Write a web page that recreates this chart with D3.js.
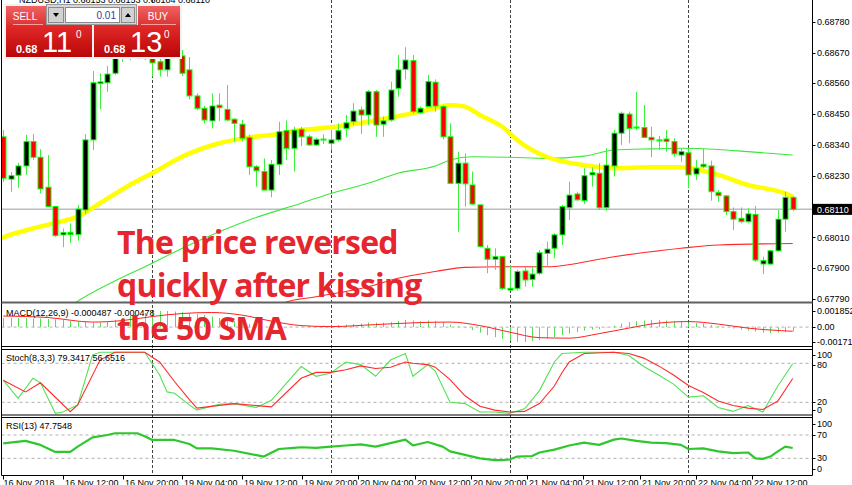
<!DOCTYPE html>
<html><head><meta charset="utf-8">
<script src="https://cdn.jsdelivr.net/npm/d3@7"></script>
<style>
html,body{margin:0;padding:0;background:#fff;}
svg{display:block;font-family:"Liberation Sans",Arial,sans-serif;}
</style></head><body>
<svg id="chart" width="852" height="485"></svg>
<script>
// ---------- DATA ----------
const opens  = [0.68369,0.68218,0.68232,0.68265,0.68352,0.68296,0.68189,0.68120,0.68019,0.68028,0.68020,0.68108,0.68358,0.68559,0.68562,0.68596,0.68650,0.68690,0.68665,0.68697,0.68672,0.68637,0.68608,0.68672,0.68658,0.68608,0.68515,0.68471,0.68426,0.68482,0.68467,0.68432,0.68414,0.68367,0.68262,0.68245,0.68179,0.68271,0.68391,0.68328,0.68396,0.68369,0.68340,0.68361,0.68346,0.68358,0.68399,0.68423,0.68465,0.68447,0.68530,0.68414,0.68429,0.68542,0.68610,0.68641,0.68455,0.68477,0.68564,0.68477,0.68369,0.68203,0.68275,0.68197,0.68126,0.67971,0.67932,0.67941,0.67822,0.67828,0.67890,0.67860,0.67882,0.67953,0.67971,0.68019,0.68116,0.68165,0.68141,0.68233,0.68239,0.68116,0.68265,0.68382,0.68450,0.68403,0.68402,0.68367,0.68358,0.68361,0.68352,0.68304,0.68312,0.68236,0.68271,0.68265,0.68170,0.68158,0.68102,0.68078,0.68066,0.68092,0.67915,0.67915,0.67962,0.68075,0.68153];
const highs  = [0.68393,0.68243,0.68276,0.68376,0.68379,0.68325,0.68304,0.68122,0.68042,0.68060,0.68126,0.68379,0.68604,0.68596,0.68622,0.68679,0.68715,0.68722,0.68729,0.68715,0.68697,0.68661,0.68693,0.68700,0.68679,0.68654,0.68524,0.68479,0.68524,0.68524,0.68554,0.68435,0.68429,0.68376,0.68268,0.68292,0.68286,0.68423,0.68427,0.68405,0.68404,0.68376,0.68365,0.68378,0.68393,0.68417,0.68447,0.68489,0.68477,0.68536,0.68536,0.68441,0.68566,0.68661,0.68689,0.68661,0.68477,0.68590,0.68574,0.68483,0.68417,0.68316,0.68310,0.68245,0.68126,0.67983,0.67971,0.67944,0.67911,0.67894,0.67905,0.67905,0.67965,0.67995,0.68025,0.68126,0.68209,0.68173,0.68257,0.68260,0.68275,0.68328,0.68393,0.68459,0.68459,0.68530,0.68483,0.68405,0.68372,0.68393,0.68364,0.68328,0.68328,0.68286,0.68328,0.68284,0.68179,0.68161,0.68117,0.68117,0.68114,0.68122,0.67941,0.67965,0.68108,0.68173,0.68158];
const lows   = [0.68208,0.68173,0.68187,0.68233,0.68286,0.68167,0.68118,0.68012,0.67975,0.67989,0.67998,0.68094,0.68322,0.68467,0.68530,0.68590,0.68636,0.68643,0.68650,0.68643,0.68584,0.68584,0.68584,0.68654,0.68586,0.68503,0.68465,0.68417,0.68399,0.68426,0.68426,0.68352,0.68352,0.68233,0.68191,0.68177,0.68153,0.68233,0.68286,0.68245,0.68336,0.68336,0.68336,0.68343,0.68322,0.68352,0.68369,0.68411,0.68379,0.68411,0.68369,0.68369,0.68423,0.68512,0.68574,0.68453,0.68450,0.68474,0.68459,0.68360,0.68201,0.68030,0.68120,0.68126,0.67975,0.67882,0.67894,0.67822,0.67820,0.67820,0.67834,0.67834,0.67876,0.67905,0.67935,0.67983,0.68072,0.68141,0.68129,0.68191,0.68108,0.68105,0.68227,0.68340,0.68346,0.68393,0.68364,0.68296,0.68322,0.68316,0.68298,0.68280,0.68185,0.68215,0.68257,0.68141,0.68137,0.68090,0.68036,0.68060,0.68062,0.67923,0.67879,0.67911,0.67959,0.68030,0.68104];
const closes = [0.68221,0.68230,0.68265,0.68352,0.68296,0.68183,0.68120,0.68016,0.68027,0.68020,0.68111,0.68358,0.68562,0.68565,0.68593,0.68649,0.68690,0.68665,0.68697,0.68672,0.68633,0.68608,0.68672,0.68658,0.68596,0.68515,0.68471,0.68429,0.68479,0.68473,0.68429,0.68417,0.68364,0.68262,0.68248,0.68179,0.68271,0.68387,0.68328,0.68393,0.68369,0.68340,0.68360,0.68360,0.68358,0.68391,0.68419,0.68461,0.68447,0.68530,0.68411,0.68426,0.68536,0.68608,0.68643,0.68459,0.68471,0.68566,0.68479,0.68369,0.68203,0.68275,0.68201,0.68129,0.67977,0.67932,0.67941,0.67828,0.67828,0.67888,0.67858,0.67879,0.67955,0.67968,0.68019,0.68120,0.68161,0.68144,0.68230,0.68241,0.68116,0.68268,0.68382,0.68453,0.68399,0.68404,0.68367,0.68358,0.68357,0.68352,0.68308,0.68316,0.68233,0.68257,0.68262,0.68173,0.68159,0.68102,0.68075,0.68066,0.68094,0.67929,0.67927,0.67962,0.68075,0.68153,0.68110];

const sma50  = [[-1,0.67998],[0,0.68010],[4,0.68042],[7,0.68062],[10,0.68084],[13,0.68132],[17,0.68197],[20,0.68239],[24,0.68298],[29,0.68346],[33,0.68367],[37,0.68379],[40,0.68393],[44,0.68403],[49,0.68423],[53,0.68443],[56,0.68459],[58,0.68471],[60,0.68483],[62,0.68477],[64,0.68447],[67,0.68405],[69,0.68358],[71,0.68322],[73,0.68297],[78,0.68268],[82,0.68257],[87,0.68260],[91,0.68260],[96,0.68233],[100,0.68197],[105,0.68167],[106,0.68155]];
const sma100 = [[9,0.67765],[10,0.67782],[20,0.67918],[26,0.67995],[33,0.68072],[40,0.68132],[44,0.68167],[49,0.68203],[53,0.68239],[58,0.68265],[60,0.68286],[63,0.68298],[68,0.68296],[73,0.68292],[78,0.68300],[82,0.68322],[87,0.68326],[91,0.68328],[96,0.68324],[100,0.68316],[106,0.68304]];
const sma200 = [[37,0.67768],[38,0.67779],[42,0.67798],[49,0.67834],[53,0.67864],[58,0.67888],[62,0.67903],[67,0.67905],[73,0.67905],[82,0.67941],[91,0.67971],[96,0.67983],[106,0.67988]];

const macdHist = [0.001041,0.001041,0.001041,0.001041,0.000983,0.000983,0.000926,0.000868,0.000810,0.000694,0.000636,
 0.000579,0.000521,0.000521,0.000636,0.000810,0.001041,0.001273,0.001446,0.001620,0.001736,
 0.001852,0.001852,0.001793,0.001736,0.001620,0.001504,0.001388,0.001215,0.001041,0.000868,
 0.000694,0.000521,0.000347,0.000174,0,-0.000116,-0.000116,-0.000058,0,0.000058,
 0.000116,0.000116,0.000174,0.000174,0.000231,0.000289,0.000347,0.000405,0.000521,0.000521,
 0.000521,0.000579,0.000694,0.000810,0.000752,0.000694,0.000752,0.000694,0.000579,0.000289,
 0.000116,-0.000116,-0.000347,-0.000636,-0.000926,-0.001157,-0.001388,-0.001562,-0.001678,-0.001714,
 -0.001620,-0.001504,-0.001331,-0.001157,-0.000926,-0.000752,-0.000579,-0.000405,-0.000289,-0.000231,
 -0.000058,0.000174,0.000405,0.000579,0.000694,0.000752,0.000810,0.000810,0.000752,0.000694,
 0.000636,0.000521,0.000463,0.000405,0.000231,0.000116,0,-0.000174,-0.000289,-0.000405,
 -0.000521,-0.000636,-0.000694,-0.000636,-0.000579,-0.000487];
const macdSignal = [[0,0.001273],[6,0.001099],[12,0.000579],[16,0.000752],[20,0.001215],[24,0.001562],[28,0.001678],[32,0.001388],[36,0.000694],[40,0.000174],[44,0.000058],[50,0.000289],[56,0.000521],[60,0.000579],[64,0.000174],[68,-0.000579],[72,-0.001215],[76,-0.001273],[80,-0.000752],[84,-0.000116],[88,0.000463],[92,0.000636],[96,0.000347],[100,-0.000116],[106,-0.000478]];

const stochK = [[0,54],[2,26],[4,57],[5,50],[7,3],[8,5],[10,16],[12,93],[13,97],[19,97],[21,62],[22,36],[23,34],[25,16],[26,8],[29,17],[31,18],[34,12],[36,23],[40,75],[42,60],[44,65],[46,82],[48,78],[50,60],[52,85],[54,95],[55,60],[57,78],[58,68],[60,20],[62,18],[64,5],[66,5],[68,3],[70,10],[72,38],[74,82],[75,95],[78,97],[82,97],[84,92],[86,75],[88,62],[90,48],[92,28],[94,30],[96,12],[98,6],[100,15],[102,5],[104,45],[106,79.3417]];
const stochD = [[0,54],[3,36],[5,50],[9,5.5],[10,16],[13,85],[15,97],[19,97],[21,82],[23,52],[25,24],[26,11],[31,18],[36,13],[40,57],[42,66],[44,66],[46,70],[48,76],[50,72],[52,74],[54,82],[55,80],[57,78],[58,74],[60,55],[62,30],[64,14],[66,8],[68,5],[70,6],[72,18],[74,45],[75,65],[76,82],[78,95],[82,97],[84,95],[86,88],[88,76],[90,62],[92,46],[94,35],[96,22],[98,15],[100,11],[102,9],[104,22],[106,56.6516]];
const rsi13 = [[0,55.7],[3,60],[5,53],[7,41],[9,41],[10,50],[12,66],[14,70],[15,73],[18,73],[19,68],[20,61.5],[23,61.5],[25,54.5],[26,47],[28,47],[31,43],[35,33],[37,46],[39,48],[40,49],[42,48],[44,50],[46,52],[48,54],[50,50],[52,56],[54,62],[55,52],[57,58],[59,50],[60,42],[62,36],[64,30],[66,27],[67,27],[68,28],[69,33],[71,34],[72,40],[74,45],[76,52],[78,57],[80,53],[82,62],[83,64],[85,60],[87,57],[89,56],[91,53],[92,46],[94,47],[96,42],[98,39],[100,40],[101,30],[102,29],[103,33],[104,42],[105,50],[106,47.7548]];

const priceTicks = [0.68780,0.68670,0.68560,0.68450,0.68340,0.68230,0.68120,0.68010,0.67900,0.67790];
const lastPrice = 0.68110;
const macdTicks = [0.001852,0,-0.001714];
const macdTickLabels = ["0.001852","0.00","-0.001714"];
const stochTicks = [100,80,20,0];
const rsiTicks = [100,70,30,0];
const stochLevels = [80,20];
const rsiLevels = [70,30];
const daySeparators = [20,44,68,92];
const timeLabels = ["16 Nov 2018","16 Nov 12:00","16 Nov 20:00","19 Nov 04:00","19 Nov 12:00","19 Nov 20:00","20 Nov 04:00","20 Nov 12:00","20 Nov 20:00","21 Nov 04:00","21 Nov 12:00","21 Nov 20:00","22 Nov 04:00","22 Nov 12:00"];
const titleText = "NZDUSD,H1  0.68153 0.68153 0.68104 0.68110";
const macdTitle = "MACD(12,26,9) -0.000487 -0.000478";
const stochTitle = "Stoch(8,3,3) 79.3417 56.6516";
const rsiTitle = "RSI(13) 47.7548";
const noteLines = ["The price reversed","quickly after kissing","the 50 SMA"];
const sellQuote = ["0.68","11","0"];
const buyQuote = ["0.68","13","0"];
const lotSize = "0.01";

// ---------- LAYOUT ----------
const svg = d3.select('#chart');
const L = 1.5, R = 812.5;
const P = {main:[0,302], macd:[303,346.5], stoch:[349.5,415], rsi:[417.5,475.5]};
const x = d3.scaleLinear().domain([0,106]).range([3.2,792.7]);
const y = d3.scaleLinear().domain([0.6779,0.6878]).range([299,21.7]);
const yM = d3.scaleLinear().domain([-0.001714,0.001852]).range([342,311]);
const yS = d3.scaleLinear().domain([0,100]).range([415.3,350.3]);
const yR = d3.scaleLinear().domain([0,100]).range([475.8,417.5]);
const xLab = d3.scaleLinear().domain([0,5,13]).range([3,302,752]);

const defs = svg.append('defs');
Object.entries(P).forEach(([k,[a,b]])=>{
  defs.append('clipPath').attr('id','c_'+k).append('rect').attr('x',L+0.5).attr('y',a).attr('width',R-L-1).attr('height',b-a);
});
const gradTop = defs.append('linearGradient').attr('id','gTop').attr('x1',0).attr('y1',0).attr('x2',0).attr('y2',1);
gradTop.append('stop').attr('offset','0').attr('stop-color','#f06262');
gradTop.append('stop').attr('offset','1').attr('stop-color','#dc3434');
const gradBig = defs.append('linearGradient').attr('id','gBig').attr('x1',0).attr('y1',0).attr('x2',0).attr('y2',1);
gradBig.append('stop').attr('offset','0').attr('stop-color','#e42a2a');
gradBig.append('stop').attr('offset','1').attr('stop-color','#b80606');

// day separators (all panels)
svg.append('g').selectAll('line').data(daySeparators).join('line')
  .attr('x1',d=>Math.round(x(d))+0.5).attr('x2',d=>Math.round(x(d))+0.5)
  .attr('y1',0).attr('y2',P.rsi[1])
  .attr('stroke','#444').attr('stroke-dasharray','3,2').attr('stroke-width',1);

// ---------- MAIN ----------
const gm = svg.append('g').attr('clip-path','url(#c_main)');
gm.append('line').attr('x1',L).attr('x2',R).attr('y1',y(lastPrice)).attr('y2',y(lastPrice))
  .attr('stroke','#b8bcc4').attr('stroke-width',1.5);
const ln = d3.line().x(d=>x(d[0])).y(d=>y(d[1])).curve(d3.curveMonotoneX);
gm.append('path').attr('d',ln(sma200)).attr('fill','none').attr('stroke','#ff2a2a').attr('stroke-width',1.1);
gm.append('path').attr('d',ln(sma100)).attr('fill','none').attr('stroke','#3ae83a').attr('stroke-width',1.1);
gm.append('path').attr('d',ln(sma50)).attr('fill','none').attr('stroke','#ffff00').attr('stroke-width',4.5);

const bars = d3.range(opens.length);
const cg = gm.append('g');
cg.selectAll('line').data(bars).join('line')
  .attr('x1',i=>Math.round(x(i))+0.5).attr('x2',i=>Math.round(x(i))+0.5)
  .attr('y1',i=>y(highs[i])).attr('y2',i=>y(lows[i]))
  .attr('stroke','#3cf03c').attr('stroke-width',1);
cg.selectAll('rect').data(bars).join('rect')
  .attr('x',i=>Math.round(x(i))-2)
  .attr('y',i=>y(Math.max(opens[i],closes[i])))
  .attr('width',5)
  .attr('height',i=>Math.max(1,Math.abs(y(opens[i])-y(closes[i]))))
  .attr('fill',i=>closes[i]>=opens[i]?'#000':'#ff0000')
  .attr('stroke','#00ff00').attr('stroke-width',1);

// ---------- MACD ----------
const gmac = svg.append('g').attr('clip-path','url(#c_macd)');
gmac.append('line').attr('x1',L).attr('x2',R).attr('y1',yM(0)).attr('y2',yM(0))
  .attr('stroke','#b0b0b0').attr('stroke-dasharray','3,3');
gmac.selectAll('line.h').data(bars).join('line').attr('class','h')
  .attr('x1',i=>Math.round(x(i))+0.5).attr('x2',i=>Math.round(x(i))+0.5)
  .attr('y1',yM(0)).attr('y2',i=>yM(macdHist[i]))
  .attr('stroke','#55dd55').attr('stroke-width',1);
gmac.append('path').attr('d',d3.line().x(d=>x(d[0])).y(d=>yM(d[1])).curve(d3.curveMonotoneX)(macdSignal))
  .attr('fill','none').attr('stroke','#ff2020').attr('stroke-width',1);

// ---------- STOCH ----------
const gst = svg.append('g').attr('clip-path','url(#c_stoch)');
gst.selectAll('line').data(stochLevels).join('line').attr('x1',L).attr('x2',R)
  .attr('y1',d=>yS(d)).attr('y2',d=>yS(d)).attr('stroke','#b0b0b0').attr('stroke-dasharray','3,3');
const lnS = d3.line().x(d=>x(d[0])).y(d=>yS(d[1]));
gst.append('path').attr('d',lnS(stochK)).attr('fill','none').attr('stroke','#55e055').attr('stroke-width',1.1);
gst.append('path').attr('d',lnS(stochD)).attr('fill','none').attr('stroke','#ff2a2a').attr('stroke-width',1.1);

// ---------- RSI ----------
const grs = svg.append('g').attr('clip-path','url(#c_rsi)');
grs.selectAll('line').data(rsiLevels).join('line').attr('x1',L).attr('x2',R)
  .attr('y1',d=>yR(d)).attr('y2',d=>yR(d)).attr('stroke','#b0b0b0').attr('stroke-dasharray','3,3');
grs.append('path').attr('d',d3.line().x(d=>x(d[0])).y(d=>yR(d[1]))(rsi13))
  .attr('fill','none').attr('stroke','#2ec82e').attr('stroke-width',2.2).attr('stroke-linejoin','round');

// ---------- FRAMES ----------
const fr = svg.append('g').attr('stroke','#000').attr('stroke-width',1).attr('fill','none');
fr.append('line').attr('x1',L).attr('x2',L).attr('y1',0).attr('y2',P.rsi[1]);
fr.append('line').attr('x1',R).attr('x2',R).attr('y1',0).attr('y2',P.rsi[1]);
fr.append('line').attr('x1',L).attr('x2',R).attr('y1',302.5).attr('y2',302.5).attr('stroke','#606060').attr('stroke-width',2);
[P.macd[1],P.stoch[0],P.stoch[1],P.rsi[0],P.rsi[1]].forEach(v=>{
  fr.append('line').attr('x1',L).attr('x2',R).attr('y1',v).attr('y2',v);
});

// ---------- AXES ----------
const ax = svg.append('g').attr('font-size',9).attr('fill','#000');
function rightTicks(vals, pos, fmt){
  vals.forEach((v,k)=>{
    const py = pos(v);
    ax.append('line').attr('x1',R).attr('x2',R+3).attr('y1',Math.round(py)+0.5).attr('y2',Math.round(py)+0.5).attr('stroke','#000');
    ax.append('text').attr('x',R+4.5).attr('y',py).attr('dy','0.35em').text(fmt(v,k));
  });
}
// price ticks hidden under the current-price box are not labelled
rightTicks(priceTicks.filter(v=>Math.abs(y(v)-y(lastPrice))>8), y, v=>v.toFixed(5));
rightTicks(macdTicks, yM, (v,k)=>macdTickLabels[k]);
const stochLabelPos = v=>({100:354.5,80:365,20:401.5,0:410}[v] ?? yS(v));
const clampR = v=>Math.min(Math.max(yR(v),P.rsi[0]+6),P.rsi[1]-6.5);
rightTicks(stochTicks, v=>Math.min(Math.max(yS(v),P.stoch[0]+5),P.stoch[1]-5) + (v===100?0:v===80?1.7:v===20?-0.8:0), v=>String(v));
rightTicks(rsiTicks, clampR, v=>String(v));
// current price box
ax.append('rect').attr('x',R).attr('y',y(lastPrice)-5.5).attr('width',852-R).attr('height',11).attr('fill','#000');
ax.append('text').attr('x',R+4.5).attr('y',y(lastPrice)).attr('dy','0.35em').attr('fill','#fff').text(lastPrice.toFixed(5));

// time labels
timeLabels.forEach((t,k)=>{
  const px = Math.round(xLab(k))+0.5;
  ax.append('line').attr('x1',px).attr('x2',px).attr('y1',P.rsi[1]).attr('y2',P.rsi[1]+4).attr('stroke','#000');
  ax.append('text').attr('x',px+(k===0?0:1.5)).attr('y',486).text(t);
});

// panel titles
ax.append('text').attr('x',6).attr('y',315.5).text(macdTitle);
ax.append('text').attr('x',6).attr('y',360.5).text(stochTitle);
ax.append('text').attr('x',6).attr('y',429).text(rsiTitle);
ax.append('text').attr('x',19).attr('y',2.5).text(titleText);

// ---------- ANNOTATION ----------
const note = svg.append('g').attr('font-family','"Open Sans",sans-serif').attr('font-weight',700)
  .attr('font-size',32).attr('fill','#e6262e').attr('letter-spacing','-0.8px');
noteLines.forEach((t,k)=>{
  note.append('text').attr('x',117).attr('y',254+k*43).text(t);
});

// ---------- ONE-CLICK PANEL ----------
const w = svg.append('g');
w.append('rect').attr('x',4).attr('y',4).attr('width',178).attr('height',55).attr('fill','#f2f2f2');
w.append('rect').attr('x',6).attr('y',6).attr('width',40).attr('height',19).attr('fill','url(#gTop)');
w.append('rect').attr('x',138).attr('y',6).attr('width',42).attr('height',19).attr('fill','url(#gTop)');
w.append('rect').attr('x',6).attr('y',25).attr('width',86).attr('height',32).attr('fill','url(#gBig)');
w.append('rect').attr('x',94).attr('y',25).attr('width',86).attr('height',32).attr('fill','url(#gBig)');
w.append('line').attr('x1',13).attr('x2',43).attr('y1',24.5).attr('y2',24.5).attr('stroke','#f6a0a0');
w.append('line').attr('x1',141).attr('x2',176).attr('y1',24.5).attr('y2',24.5).attr('stroke','#f6a0a0');
const tf = '"Liberation Sans Narrow","Liberation Sans",Arial,sans-serif';
w.append('text').attr('x',25).attr('y',20).attr('text-anchor','middle').attr('font-family',tf).attr('font-size',10).attr('fill','#fff').text('SELL');
w.append('text').attr('x',158).attr('y',20).attr('text-anchor','middle').attr('font-family',tf).attr('font-size',10).attr('fill','#fff').text('BUY');
// lot box
w.append('rect').attr('x',46.5).attr('y',4.5).attr('width',90).attr('height',20).attr('fill','#d6d6d6').attr('stroke','#9a9a9a');
w.append('rect').attr('x',48.5).attr('y',7.5).attr('width',15).attr('height',15).attr('fill','#d2d2d2').attr('stroke','#8a8a8a');
w.append('rect').attr('x',65.5).attr('y',7.5).attr('width',54).attr('height',15).attr('fill','#fff').attr('stroke','#8a8a8a');
w.append('rect').attr('x',121.5).attr('y',7.5).attr('width',13).attr('height',15).attr('fill','#d2d2d2').attr('stroke','#8a8a8a');
w.append('path').attr('d','M53,13 L59,13 L56,17 Z').attr('fill','#000');
w.append('path').attr('d','M125,17 L131,17 L128,13 Z').attr('fill','#000');
w.append('text').attr('x',116).attr('y',19).attr('text-anchor','end').attr('font-size',10).attr('fill','#3a3a9a').text(lotSize);
// quotes
function quote(q, x0){
  w.append('text').attr('x',x0).attr('y',52.5).attr('font-size',11).attr('font-weight',700).attr('fill','#fff').text(q[0]);
  w.append('text').attr('x',x0+26).attr('y',52).attr('font-size',29).attr('fill','#fff').text(q[1]);
  w.append('text').attr('x',x0+60).attr('y',37.5).attr('font-size',10).attr('fill','#fff').text(q[2]);
}
quote(sellQuote, 16);
quote(buyQuote, 104);
</script>
</body></html>
